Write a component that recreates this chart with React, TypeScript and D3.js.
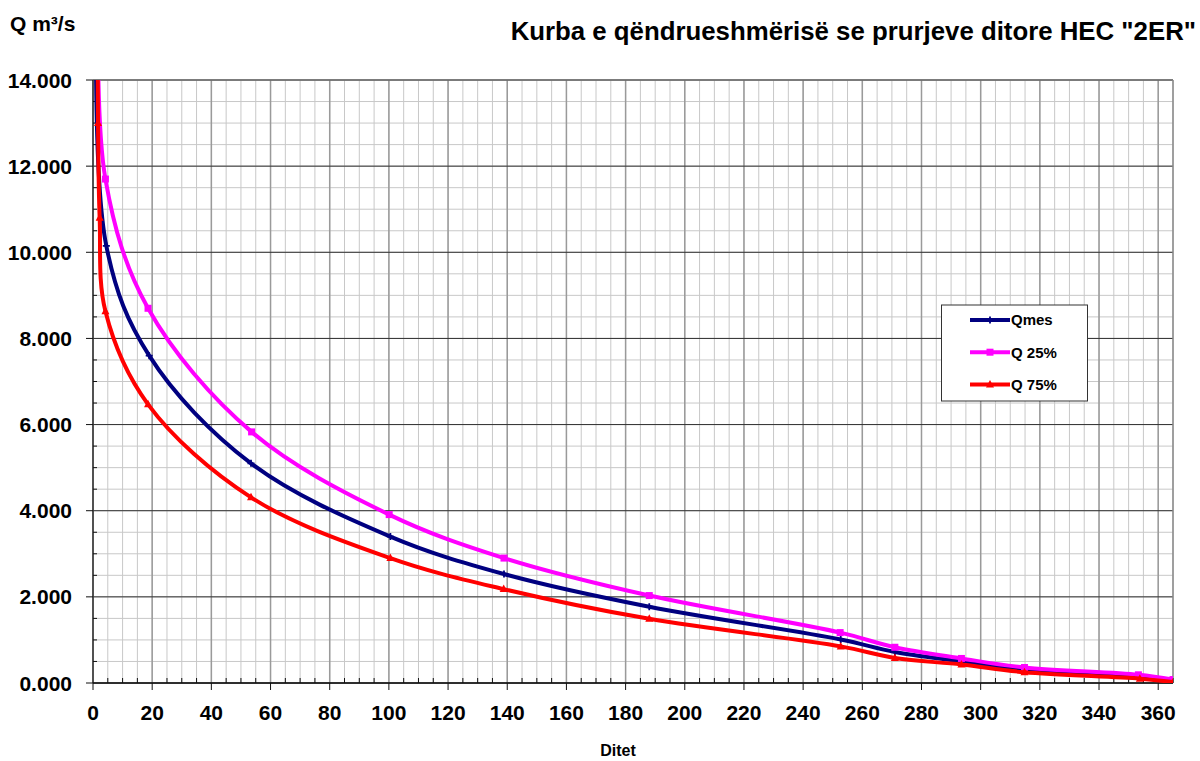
import React from 'react';
import * as d3 from 'd3';

// ---------- data ----------
const xTickValues = [0, 20, 40, 60, 80, 100, 120, 140, 160, 180, 200, 220, 240, 260, 280, 300, 320, 340, 360];
const yTickValues = [0, 2, 4, 6, 8, 10, 12, 14];

const qmesDays = [1.6, 4.5, 19, 53.4, 100.5, 138.9, 188, 252.7, 271, 293.5, 314.8, 353.5, 365];
const qmesValues = [18, 10.15, 7.6, 5.1, 3.4, 2.53, 1.77, 1.01, 0.72, 0.5, 0.3, 0.15, 0.06];

const q25Days = [2.0, 4.2, 18.6, 53.6, 100.1, 138.9, 188, 252.5, 271, 293.5, 314.8, 353.3, 365];
const q25Values = [17, 11.7, 8.7, 5.83, 3.91, 2.9, 2.03, 1.17, 0.83, 0.57, 0.36, 0.19, 0.08];

const q75Days = [1.5, 1.7, 2.25, 4.2, 18.6, 53.4, 100.5, 138.8, 188, 252.7, 271, 293.5, 314.8, 353.8, 365];
const q75Values = [17, 13.0, 10.8, 8.63, 6.47, 4.31, 2.9, 2.18, 1.49, 0.85, 0.58, 0.43, 0.25, 0.1, 0.02];

const seriesNames = ['Qmes', 'Q 25%', 'Q 75%'];
const seriesColors = ['#000080', '#FF00FF', '#FF0000'];

// ---------- layout ----------
const W = 1200;
const H = 761;
const L = 93;
const R = 1173;
const T = 80;
const B = 683;
const FONT = '"Liberation Sans", Arial, Helvetica, sans-serif';

const x = d3.scaleLinear().domain([0, 365]).range([L, R]);
const y = d3.scaleLinear().domain([0, 14]).range([B, T]);

const line = d3
  .line<[number, number]>()
  .x((d) => x(d[0]))
  .y((d) => y(d[1]))
  .curve(d3.curveCatmullRom.alpha(0.5));

const zip = (a: number[], b: number[]) => a.map((v, i) => [v, b[i]] as [number, number]);

const series = [
  { name: seriesNames[0], color: seriesColors[0], pts: zip(qmesDays, qmesValues), marker: 'plus' },
  { name: seriesNames[1], color: seriesColors[1], pts: zip(q25Days, q25Values), marker: 'square' },
  { name: seriesNames[2], color: seriesColors[2], pts: zip(q75Days, q75Values), marker: 'triangle' },
];

function Marker({ type, cx, cy, color }: { type: string; cx: number; cy: number; color: string }) {
  if (type === 'square') {
    return <rect x={cx - 3.5} y={cy - 3.5} width={7} height={7} fill={color} />;
  }
  if (type === 'triangle') {
    return <path d={`M${cx},${cy - 4.5}L${cx + 4},${cy + 3}L${cx - 4},${cy + 3}Z`} fill={color} />;
  }
  return (
    <path d={`M${cx - 3.5},${cy}H${cx + 3.5}M${cx},${cy - 3.5}V${cy + 3.5}`} stroke={color} strokeWidth={1.8} />
  );
}

export default function App() {
  const minorX = d3.range(0, 366, 5);
  const minorY = d3.range(0, 14.01, 0.5);

  const legendItems = series.map((s, i) => ({ ...s, ly: 320 + i * 32.2 }));

  return (
    <svg
      width={W}
      height={H}
      style={{ position: 'absolute', left: 0, top: 0, background: '#fff' }}
      fontFamily={FONT}
    >
      <defs>
        <clipPath id="plotClip">
          <rect x={L} y={T} width={R - L} height={B - T} />
        </clipPath>
      </defs>
      <rect x={0} y={0} width={W} height={H} fill="#fff" />

      {/* minor grid */}
      {minorX.map((d) => (
        <line key={'mx' + d} x1={x(d)} x2={x(d)} y1={T} y2={B} stroke="#c8c8c8" strokeWidth={1} />
      ))}
      {minorY.map((d) => (
        <line key={'my' + d} x1={L} x2={R} y1={y(d)} y2={y(d)} stroke="#c8c8c8" strokeWidth={1} />
      ))}
      {/* major vertical grid */}
      {xTickValues.map((d) => (
        <line key={'Mx' + d} x1={x(d)} x2={x(d)} y1={T} y2={B} stroke="#9a9a9a" strokeWidth={1.5} />
      ))}
      {/* major horizontal grid */}
      {yTickValues.map((d) => (
        <line key={'My' + d} x1={L} x2={R} y1={y(d)} y2={y(d)} stroke="#303030" strokeWidth={1} />
      ))}

      {/* plot border */}
      <line x1={L} x2={R} y1={T} y2={T} stroke="#777" strokeWidth={1.5} />
      <line x1={R} x2={R} y1={T} y2={B} stroke="#888" strokeWidth={1.5} />
      <line x1={L} x2={L} y1={T} y2={B} stroke="#333" strokeWidth={1.5} />
      <line x1={L} x2={R} y1={B} y2={B} stroke="#111" strokeWidth={1.5} />

      {/* y ticks */}
      {yTickValues.map((d) => (
        <line key={'yt' + d} x1={L - 7} x2={L} y1={y(d)} y2={y(d)} stroke="#111" strokeWidth={1} />
      ))}
      {minorY
        .filter((d) => Math.abs(d % 2) > 0.01)
        .map((d) => (
          <line key={'ymt' + d} x1={L} x2={L + 4} y1={y(d)} y2={y(d)} stroke="#111" strokeWidth={1} />
        ))}
      {/* x ticks */}
      {xTickValues.map((d) => (
        <line key={'xt' + d} x1={x(d)} x2={x(d)} y1={B} y2={B + 7} stroke="#111" strokeWidth={1} />
      ))}
      {minorX
        .filter((d) => d % 20 !== 0)
        .map((d) => (
          <line key={'xmt' + d} x1={x(d)} x2={x(d)} y1={B - 5} y2={B} stroke="#111" strokeWidth={1} />
        ))}

      {/* series */}
      <g clipPath="url(#plotClip)">
        {series.map((s) => (
          <g key={s.name}>
            <path d={line(s.pts) || ''} fill="none" stroke={s.color} strokeWidth={4} strokeLinejoin="round" />
            {s.pts.map((p, i) => (
              <Marker key={i} type={s.marker} cx={x(p[0])} cy={y(p[1])} color={s.color} />
            ))}
          </g>
        ))}
      </g>

      {/* y labels */}
      {yTickValues.map((d) => (
        <text
          key={'yl' + d}
          x={72}
          y={y(d)}
          dy="0.36em"
          textAnchor="end"
          fontSize={21}
          fontWeight="bold"
          fill="#000"
        >
          {d.toFixed(3)}
        </text>
      ))}
      {/* x labels */}
      {xTickValues.map((d) => (
        <text
          key={'xl' + d}
          x={x(d)}
          y={720}
          textAnchor="middle"
          fontSize={21}
          fontWeight="bold"
          fill="#000"
        >
          {d}
        </text>
      ))}

      {/* axis titles */}
      <text x={10} y={31} fontSize={21} fontWeight="bold" fill="#000">
        Q m³/s
      </text>
      <text x={618} y={756} textAnchor="middle" fontSize={16} fontWeight="bold" fill="#000">
        Ditet
      </text>
      <text x={1196} y={40} textAnchor="end" fontSize={25.8} fontWeight="bold" fill="#000">
        Kurba e qëndrueshmërisë se prurjeve ditore HEC "2ER"
      </text>

      {/* legend */}
      <rect x={941.5} y={305} width={146} height={96} fill="#fff" stroke="#333" strokeWidth={1} />
      {legendItems.map((s) => (
        <g key={'lg' + s.name}>
          <line x1={970} x2={1010} y1={s.ly} y2={s.ly} stroke={s.color} strokeWidth={4} />
          <Marker type={s.marker} cx={990} cy={s.ly} color={s.color} />
          <text x={1011} y={s.ly} dy="0.36em" fontSize={15} fontWeight="bold" fill="#000">
            {s.name}
          </text>
        </g>
      ))}
    </svg>
  );
}
